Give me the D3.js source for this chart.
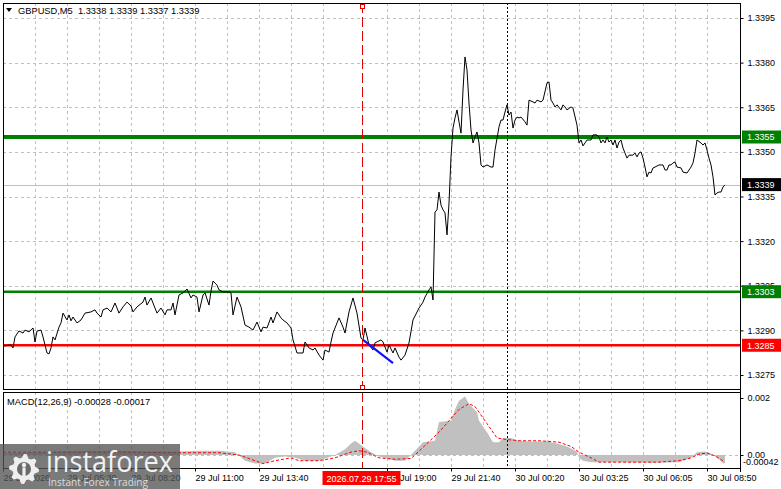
<!DOCTYPE html>
<html><head><meta charset="utf-8">
<script src="https://cdn.jsdelivr.net/npm/d3@7"></script>
<style>
body{margin:0;background:#fff;}
svg{display:block;font-family:"Liberation Sans",Arial,sans-serif;}
</style>
</head><body>
<svg id="c" width="781" height="489"></svg>
<script>
// ---------------- data ----------------
const symbolTitle = "GBPUSD,M5  1.3338 1.3339 1.3337 1.3339";
const macdTitle = "MACD(12,26,9) -0.00028 -0.00017";
const priceTicks = [1.3395, 1.3380, 1.3365, 1.3350, 1.3335, 1.3320, 1.3305, 1.3290, 1.3275];
const macdTicks = [0.002, 0];
const macdMinLabel = "-0.00042";
const timeLabelBars = [0, 32, 64, 96, 128, 192, 224, 256, 288, 320, 352];
const timeLabels = ["29 Jul 2026", "29 Jul 05:30", "29 Jul 08:20", "29 Jul 11:00", "29 Jul 13:40",
  "29 Jul 19:00", "29 Jul 21:40", "30 Jul 00:20", "30 Jul 03:25", "30 Jul 06:05", "30 Jul 08:50"];
const gridBars = [16, 32, 48, 64, 80, 96, 112, 128, 144, 160, 192, 208, 224, 240, 256, 272, 288, 304, 320, 336, 352];
const markerBar = 179.5;
const markerLabel = "2026.07.29 17:55";
const dottedBar = 252;
const levels = [1.3355, 1.3303, 1.3285];
const levelLabels = ["1.3355", "1.3303", "1.3285"];
const currentPrice = 1.3339;
const currentLabel = "1.3339";
const trendBars = [180, 195];
const trendPrices = [1.32868, 1.32790];

const closeBars = [0,4,5,6,8,10,11,13,15,16,17,19,20,22,23,24,25,26,28,29,30,32,33,34,35,37,39,41,44,46,47,49,50,52,54,56,58,60,62,64,65,67,70,71,72,74,75,77,79,81,82,84,85,86,88,90,92,94,95,97,98,100,101,103,104,105,107,108,110,113,114,115,117,119,121,123,125,127,129,130,132,134,135,137,139,140,142,144,145,147,150,151,153,155,156,158,160,161,163,164,165,168,170,171,173,175,177,179,180,181,183,185,186,189,190,192,193,195,196,198,199,201,203,205,208,210,211,213,214,215,216,217,218,219,220,221,222,223,224,225,226,227,228,229,230,231,232,233,234,235,236,237,238,239,240,242,244,245,246,248,249,250,251,252,253,254,255,256,257,258,259,261,262,263,265,266,267,269,270,272,273,274,275,276,277,279,280,281,282,284,285,287,288,289,290,291,292,294,295,297,298,299,300,301,302,303,304,305,306,307,308,309,310,311,312,313,315,316,317,318,319,320,321,322,323,324,325,326,328,330,331,332,333,334,335,336,337,339,340,342,344,345,346,347,349,350,351,352,353,354,355,356,357,358,359,360,361];
const closes = [1.32847,1.32851,1.32841,1.32878,1.32898,1.32891,1.32901,1.32895,1.32908,1.32861,1.32898,1.32901,1.32878,1.32824,1.32821,1.32841,1.32878,1.32868,1.32911,1.32925,1.32958,1.32935,1.32952,1.32932,1.32945,1.32925,1.32935,1.32958,1.32962,1.32969,1.32958,1.32945,1.32969,1.32975,1.32962,1.32992,1.32958,1.32979,1.32995,1.32982,1.32962,1.32979,1.32995,1.33012,1.32985,1.33009,1.32992,1.32958,1.32975,1.32952,1.32969,1.32969,1.32992,1.32952,1.33019,1.33026,1.33039,1.33009,1.33019,1.33012,1.32962,1.33019,1.33026,1.32985,1.33032,1.33066,1.33052,1.33036,1.33029,1.33029,1.33026,1.32952,1.33012,1.32979,1.32918,1.32911,1.32901,1.32928,1.32895,1.32911,1.32908,1.32945,1.32925,1.32962,1.32942,1.32935,1.32925,1.32908,1.32868,1.32824,1.32824,1.32861,1.32841,1.32834,1.32841,1.32817,1.32800,1.32834,1.32827,1.32861,1.32891,1.32942,1.32911,1.32891,1.32962,1.33009,1.32958,1.32874,1.32868,1.32908,1.32851,1.32834,1.32858,1.32868,1.32861,1.32827,1.32851,1.32824,1.32841,1.32810,1.32800,1.32817,1.32858,1.32935,1.32975,1.32995,1.33012,1.33036,1.33046,1.33002,1.33298,1.33305,1.33365,1.33321,1.33305,1.33295,1.33221,1.33328,1.33483,1.33580,1.33614,1.33641,1.33601,1.33563,1.33708,1.33819,1.33775,1.33664,1.33574,1.33530,1.33550,1.33567,1.33530,1.33456,1.33449,1.33456,1.33449,1.33449,1.33506,1.33584,1.33607,1.33607,1.33634,1.33658,1.33624,1.33634,1.33580,1.33607,1.33617,1.33614,1.33617,1.33601,1.33590,1.33674,1.33668,1.33664,1.33674,1.33668,1.33674,1.33732,1.33735,1.33674,1.33664,1.33651,1.33658,1.33641,1.33658,1.33651,1.33641,1.33651,1.33647,1.33590,1.33530,1.33540,1.33520,1.33530,1.33540,1.33540,1.33557,1.33557,1.33550,1.33530,1.33540,1.33530,1.33550,1.33533,1.33540,1.33523,1.33540,1.33513,1.33533,1.33540,1.33513,1.33496,1.33479,1.33489,1.33489,1.33496,1.33483,1.33496,1.33500,1.33479,1.33449,1.33416,1.33432,1.33429,1.33446,1.33449,1.33456,1.33456,1.33439,1.33439,1.33456,1.33456,1.33463,1.33466,1.33449,1.33446,1.33432,1.33429,1.33449,1.33463,1.33496,1.33540,1.33530,1.33523,1.33530,1.33506,1.33479,1.33456,1.33416,1.33355,1.33362,1.33365,1.33365,1.33382,1.33389];

const histBars = [0,14,28,44,58,74,88,98,108,116,121,126,131,136,141,146,151,158,166,171,174,176,180,184,188,196,201,204,208,210,216,218,224,226,228,231,233,237,238,242,245,248,250,254,258,264,272,277,282,287,288,290,294,308,324,338,344,347,351,354,358,360,361];
const histValues = [0.00005,0.0001,0.00012,0.00015,0.00015,0.00012,0.00012,0.00015,0.00015,0.0001,-0.0002,-0.0003,-0.0003,-0.0001,-0.00005,-0.0001,-0.0002,-0.0002,0.0,0.0002,0.0004,0.0005,0.0003,0.0001,-0.00005,-0.0002,-0.0002,0.0,0.0003,0.00045,0.0005,0.00116,0.0012,0.0016,0.0019,0.00205,0.0018,0.0015,0.0012,0.0008,0.00045,0.00045,0.0006,0.0006,0.0005,0.00047,0.00047,0.0004,0.0003,0.00012,-0.0001,-0.0002,-0.00025,-0.00025,-0.00027,-0.00025,-0.0001,0.0001,0.00012,0.00005,-0.00015,-0.0003,-0.00028];
const signalBars = [0,28,58,88,108,118,126,130,136,144,148,158,166,174,178,182,188,196,204,206,218,228,233,236,242,247,251,258,268,278,284,288,294,298,308,328,338,344,348,352,356,360,361];
const signalValues = [0.0001,0.0001,0.0001,0.00008,0.00008,0.0,-0.0002,-0.0003,-0.0002,-0.0001,-0.0002,-0.0002,-0.0001,0.0001,0.00015,0.0001,-0.0001,-0.00015,-0.00012,0.0,0.0008,0.0016,0.0018,0.0017,0.0011,0.0006,0.00055,0.0005,0.0005,0.00045,0.0003,0.0001,-0.0001,-0.00025,-0.00025,-0.00025,-0.0002,-0.0001,0.00003,0.00007,-0.00003,-0.0002,-0.0002];

// ---------------- layout ----------------
const L = 3, R = 740, T = 3, B = 389, MT = 392, MB = 468;
const svg = d3.select("#c");
const x = d3.scaleLinear().domain([0, 368.5]).range([L, R]);
const y = d3.scaleLinear().domain([1.3275, 1.3395]).range([375, 18]);
const ym = d3.scaleLinear().domain([0, 0.002]).range([455, 398]);

svg.append("rect").attr("width", 781).attr("height", 489).attr("fill", "#fff");

const gridCol = "#c0c0c0";
const g = svg.append("g");
gridBars.forEach(b => {
  [[T, B], [MT, MB]].forEach(([a, c]) => {
    g.append("line").attr("x1", Math.round(x(b)) + 0.5).attr("x2", Math.round(x(b)) + 0.5)
      .attr("y1", a).attr("y2", c).attr("stroke", gridCol).attr("stroke-dasharray", "3,3");
  });
});
priceTicks.forEach(p => {
  g.append("line").attr("x1", L).attr("x2", R).attr("y1", Math.round(y(p)) + 0.5).attr("y2", Math.round(y(p)) + 0.5)
    .attr("stroke", gridCol).attr("stroke-dasharray", "3,3");
});
g.append("line").attr("x1", L).attr("x2", R).attr("y1", ym(0) + 0.5).attr("y2", ym(0) + 0.5)
  .attr("stroke", gridCol).attr("stroke-dasharray", "3,3");

svg.append("line").attr("x1", L).attr("x2", R).attr("y1", Math.round(y(currentPrice)) + 0.5)
  .attr("y2", Math.round(y(currentPrice)) + 0.5).attr("stroke", "#c0c0c0");

const levelColors = ["#008000", "#008000", "#ff0000"];
const levelWidths = [4, 2.6, 2.4];
levels.forEach((p, i) => {
  svg.append("line").attr("x1", L).attr("x2", R).attr("y1", y(p)).attr("y2", y(p))
    .attr("stroke", levelColors[i]).attr("stroke-width", levelWidths[i]);
});

const pts = closeBars.map((b, i) => [b, closes[i]]);
svg.append("path").datum(pts)
  .attr("d", d3.line().x(d => x(d[0])).y(d => y(d[1])))
  .attr("fill", "none").attr("stroke", "#000").attr("stroke-width", 1);

svg.append("path").datum(trendBars.map((b, i) => [b, trendPrices[i]]))
  .attr("d", d3.line().x(d => x(d[0])).y(d => y(d[1])))
  .attr("stroke", "#1010ff").attr("stroke-width", 2.2).attr("fill", "none");

const hpts = histBars.map((b, i) => [b, histValues[i]]);
svg.append("path").datum(hpts)
  .attr("d", d3.area().x(d => x(d[0])).y0(ym(0)).y1(d => ym(d[1])))
  .attr("fill", "#c0c0c0");
const spts = signalBars.map((b, i) => [b, signalValues[i]]);
svg.append("path").datum(spts)
  .attr("d", d3.line().x(d => x(d[0])).y(d => ym(d[1])))
  .attr("fill", "none").attr("stroke", "#ff0000").attr("stroke-width", 1).attr("stroke-dasharray", "3,2");

const mx = Math.round(x(markerBar)) + 0.5;
[[T, B], [MT, MB]].forEach(([a, c]) => {
  svg.append("line").attr("x1", mx).attr("x2", mx).attr("y1", a).attr("y2", c)
    .attr("stroke", "#e00000").attr("stroke-dasharray", "10,4");
});
const dx = Math.round(x(dottedBar)) + 0.5;
[[T, B], [MT, MB]].forEach(([a, c]) => {
  svg.append("line").attr("x1", dx).attr("x2", dx).attr("y1", a).attr("y2", c)
    .attr("stroke", "#000").attr("stroke-dasharray", "2,2");
});
[T + 2, B - 3].forEach(yy => {
  svg.append("rect").attr("x", mx - 2).attr("y", yy - 0.5).attr("width", 4).attr("height", 4)
    .attr("fill", "#fff").attr("stroke", "#e00000");
});

svg.append("rect").attr("x", L + 0.5).attr("y", T + 0.5).attr("width", R - L).attr("height", B - T)
  .attr("fill", "none").attr("stroke", "#000");
svg.append("rect").attr("x", L + 0.5).attr("y", MT + 0.5).attr("width", R - L).attr("height", MB - MT)
  .attr("fill", "none").attr("stroke", "#000");

const ax = svg.append("g").attr("transform", `translate(${R + 0.5},0)`)
  .call(d3.axisRight(y).tickValues(priceTicks).tickSize(3).tickPadding(4).tickFormat(d3.format(".4f")));
const axm = svg.append("g").attr("transform", `translate(${R + 0.5},0)`)
  .call(d3.axisRight(ym).tickValues(macdTicks).tickSize(3).tickPadding(4).tickFormat(d => d === 0 ? "0.00" : "0.002"));
[ax, axm].forEach(a => {
  a.select(".domain").remove();
  a.selectAll("text").attr("font-size", 9).attr("fill", "#000").attr("font-family", "Liberation Sans, Arial, sans-serif");
  a.selectAll("line").attr("stroke", "#000");
});
svg.append("line").attr("x1", R + 0.5).attr("x2", R + 0.5).attr("y1", T).attr("y2", MB + 4).attr("stroke", "#000");
svg.append("text").attr("x", R + 3).attr("y", 465).attr("font-size", 9).text(macdMinLabel);

const bx = svg.append("g").attr("transform", `translate(0,${MB + 0.5})`)
  .call(d3.axisBottom(x).tickValues(timeLabelBars).tickSize(3).tickPadding(3).tickFormat((d, i) => timeLabels[i]));
bx.select(".domain").remove();
bx.selectAll("text").attr("text-anchor", "start").attr("font-size", 9).attr("fill", "#000")
  .attr("font-family", "Liberation Sans, Arial, sans-serif");
bx.selectAll("line").attr("stroke", "#000");

svg.append("rect").attr("x", mx - 40).attr("y", 471).attr("width", 78).attr("height", 14).attr("fill", "#ff0000");
svg.append("text").attr("x", mx - 1).attr("y", 481.5).attr("text-anchor", "middle").attr("font-size", 9)
  .attr("fill", "#fff").text(markerLabel);

function priceBox(p, label, col) {
  const yy = y(p);
  svg.append("rect").attr("x", R + 2).attr("y", yy - 6.5).attr("width", 39).attr("height", 13).attr("fill", col);
  svg.append("text").attr("x", R + 7).attr("y", yy + 3.3).attr("font-size", 9).attr("fill", "#fff").text(label);
}
levels.forEach((p, i) => priceBox(p, levelLabels[i], levelColors[i]));
priceBox(currentPrice, currentLabel, "#000");

svg.append("path").attr("d", "M6,8 L12,8 L9,12 Z").attr("fill", "#000");
svg.append("text").attr("x", 18).attr("y", 14).attr("font-size", 9.3).attr("fill", "#000")
  .attr("xml:space", "preserve").style("white-space", "pre").text(symbolTitle);
svg.append("text").attr("x", 7).attr("y", 405).attr("font-size", 9.3).attr("fill", "#000").text(macdTitle);

const logo = svg.append("g");
logo.append("rect").attr("x", 0).attr("y", 444).attr("width", 180).attr("height", 45)
  .attr("fill", "#555").attr("opacity", 0.78);
const gcx = 24, gcy = 469, teeth = 8;
let gp = "";
for (let k = 0; k < teeth * 4; k++) {
  const a = (k / (teeth * 4)) * Math.PI * 2 - Math.PI / 2;
  const r = (k % 4 === 0 || k % 4 === 1) ? 15 : 11.5;
  gp += (k === 0 ? "M" : "L") + (gcx + r * Math.cos(a)).toFixed(1) + "," + (gcy + r * Math.sin(a)).toFixed(1);
}
gp += "Z";
logo.append("path").attr("d", gp).attr("fill", "#eeeeee");
logo.append("circle").attr("cx", gcx).attr("cy", gcy).attr("r", 7).attr("fill", "#6a6a6a");
logo.append("circle").attr("cx", gcx).attr("cy", gcy - 4).attr("r", 2.2).attr("fill", "#eeeeee");
logo.append("rect").attr("x", gcx - 1.6).attr("y", gcy - 1.5).attr("width", 3.2).attr("height", 9).attr("fill", "#eeeeee");
logo.append("text").attr("x", 46).attr("y", 472).attr("font-size", 30).attr("fill", "#f2f2f2")
  .attr("font-family", "Open Sans, sans-serif").attr("textLength", 127).attr("lengthAdjust", "spacingAndGlyphs")
  .text("instaforex");
logo.append("text").attr("x", 48).attr("y", 486).attr("font-size", 11).attr("fill", "#dddddd")
  .attr("font-family", "Open Sans, sans-serif").attr("textLength", 100).attr("lengthAdjust", "spacingAndGlyphs")
  .text("Instant Forex Trading");
</script>
</body></html>
